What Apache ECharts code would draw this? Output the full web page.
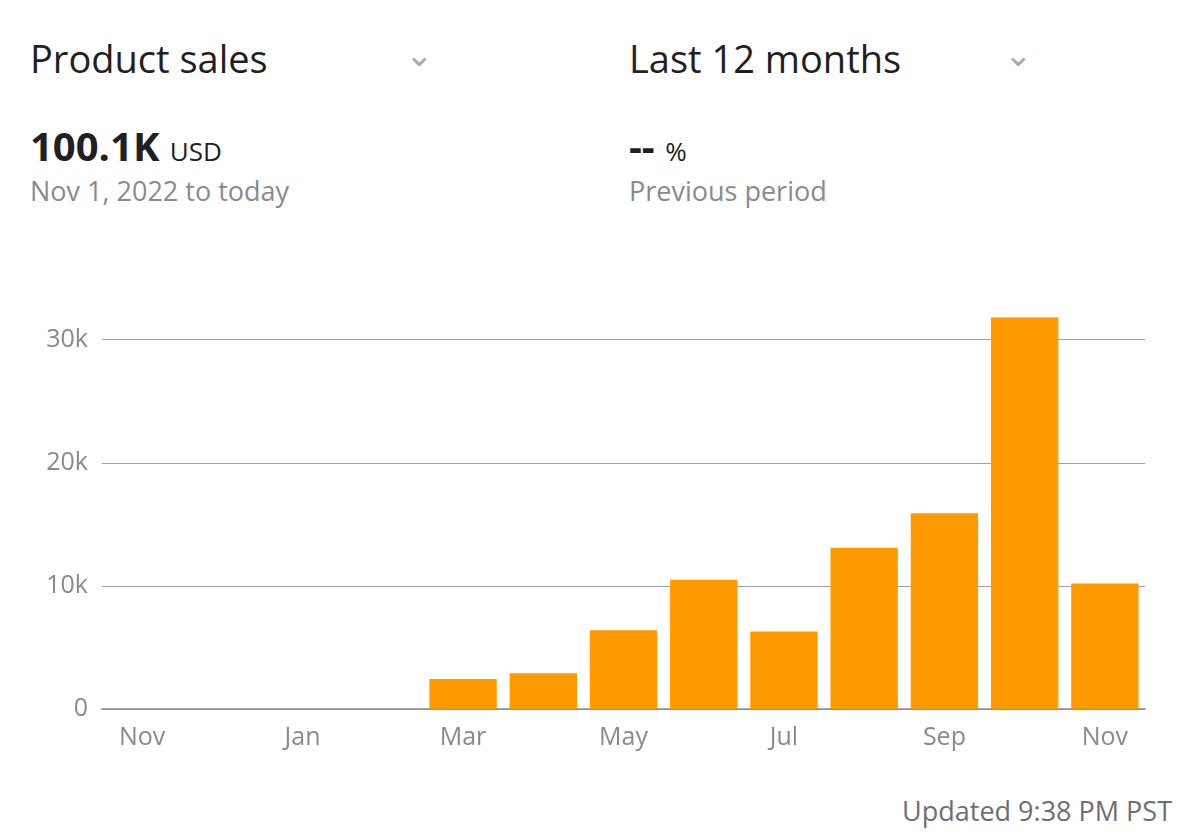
<!DOCTYPE html>
<html><head><meta charset="utf-8">
<script src="https://cdn.jsdelivr.net/npm/echarts@6/dist/echarts.min.js"></script>
<style>
body{margin:0;width:1200px;height:834px;background:#fff;font-family:"Open Sans","Noto Sans",sans-serif;position:relative;overflow:hidden}
.t{position:absolute;white-space:nowrap}
#c{position:absolute;left:0;top:250px;width:1200px;height:540px}
</style></head><body>
<div class="t" style="left:30px;top:32px;font-size:38px;color:#1f1f24">Product sales</div>
<div class="t" style="left:405px;top:30px;font-size:34px;color:#aaa">&#8964;</div>
<div class="t" style="left:629px;top:32px;font-size:38px;color:#1f1f24">Last 12 months</div>
<div class="t" style="left:1004px;top:30px;font-size:34px;color:#aaa">&#8964;</div>
<div class="t" style="left:30px;top:118px;font-size:40px;font-weight:bold;color:#1f1f24">100.1K <span style="font-size:26px;font-weight:normal">USD</span></div>
<div class="t" style="left:30px;top:172px;font-size:27px;color:#8a8a8e">Nov 1, 2022 to today</div>
<div class="t" style="left:629px;top:118px;font-size:40px;font-weight:bold;color:#1f1f24">-- <span style="font-size:26px;font-weight:normal">%</span></div>
<div class="t" style="left:629px;top:172px;font-size:27px;color:#8a8a8e">Previous period</div>
<div id="c"></div>
<div class="t" style="right:28px;top:792px;font-size:27px;color:#6e6e73">Updated 9:38 PM PST</div>
<script>
const categories=["Nov","Dec","Jan","Feb","Mar","Apr","May","Jun","Jul","Aug","Sep","Oct","Nov"];
const sales=[0,0,0,0,2440,2900,6400,10500,6300,13100,15900,31800,10200];
const chart=echarts.init(document.getElementById('c'));
chart.setOption({
 grid:{left:102,right:55,top:65,bottom:81},
 xAxis:{type:'category',data:categories,
  axisLine:{lineStyle:{color:'#8a8a8e',width:1.5}},axisTick:{show:false},
  axisLabel:{interval:1,color:'#8a8a8e',fontSize:25,margin:16,fontFamily:'Open Sans'}},
 yAxis:{type:'value',min:0,max:32000,interval:10000,
  axisLabel:{showMaxLabel:false,color:'#8a8a8e',fontSize:25,margin:14,fontFamily:'Open Sans',formatter:v=>v===0?'0':(v/1000)+'k'},
  splitLine:{showMaxLine:false,lineStyle:{color:'#a0a0a5',width:1.2}}},
 series:[{type:'bar',data:sales,barCategoryGap:'16%',itemStyle:{color:'#ff9b00'}}]
});
</script></body></html>
